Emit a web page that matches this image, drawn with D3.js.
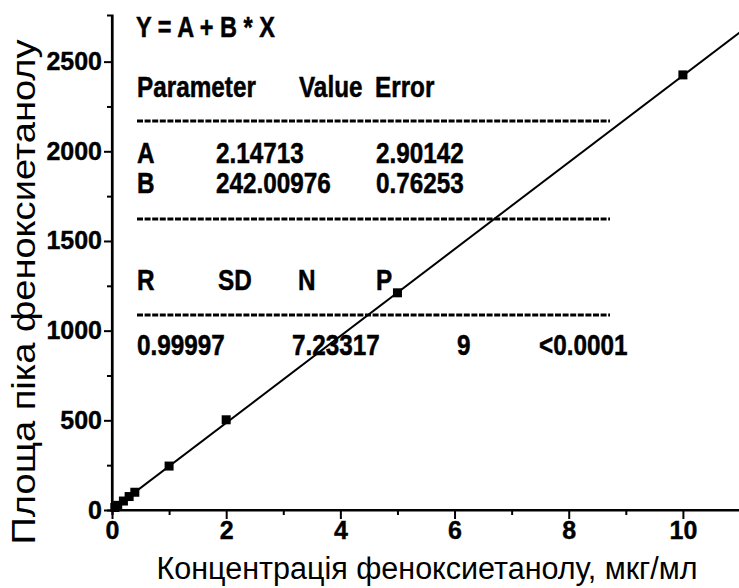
<!DOCTYPE html>
<html>
<head>
<meta charset="utf-8">
<script src="https://cdn.jsdelivr.net/npm/d3@7"></script>
<style>
  body { margin: 0; background: #fff; }
  svg { display: block; font-family: "Liberation Sans", Arial, sans-serif; }
</style>
</head>
<body>
<script>
// calibration points
var conc = [0.05, 0.1, 0.2, 0.3, 0.4, 1, 2, 5, 10];
var area = [14, 26, 50, 75, 99, 245, 503, 1211, 2426];

// fit parameters
var fitA = 2.14713, fitB = 242.00976;

var xTicks = [0, 2, 4, 6, 8, 10];
var xMinor = [1, 3, 5, 7, 9];
var yTicks = [0, 500, 1000, 1500, 2000, 2500];
var yMinor = [250, 750, 1250, 1750, 2250];

// stats table text
var eqText = "Y = A + B * X";
var headRow = ["Parameter", "Value", "Error"];
var paramRows = [["A", "2.14713", "2.90142"], ["B", "242.00976", "0.76253"]];
var statHead = ["R", "SD", "N", "P"];
var statVals = ["0.99997", "7.23317", "9", "<0.0001"];

var W = 739, H = 588;
var svg = d3.select("body").append("svg").attr("width", W).attr("height", H);

var x = d3.scaleLinear().domain([0, 11]).range([112, 740]);
var y = d3.scaleLinear().domain([0, 2760]).range([510, 15]);

// text in the box is a narrow heavy type: squeeze normal bold to 81%
function narrow(g, str, tx, ty, size) {
    var t = g.append("text")
        .attr("x", tx).attr("y", ty)
        .attr("font-size", size)
        .attr("font-weight", "bold")
        .attr("stroke", "#000")
        .attr("stroke-width", 0.5)
        .text(str);
    var len = t.node().getComputedTextLength();
    t.attr("textLength", len * 0.81).attr("lengthAdjust", "spacingAndGlyphs");
}

var box = svg.append("g");
narrow(box, eqText, 136, 37, 29);
var headX = [137, 299, 375];
headRow.forEach(function(s, i) { narrow(box, s, headX[i], 97, 30); });
var colX = [137, 216, 376];
paramRows.forEach(function(r, j) {
    r.forEach(function(s, i) { narrow(box, s, colX[i], 163 + j * 30, 30); });
});
var statX = [137, 218, 298, 376];
statHead.forEach(function(s, i) { narrow(box, s, statX[i], 290, 30); });
var valX = [137, 292, 457, 539];
statVals.forEach(function(s, i) { narrow(box, s, valX[i], 355, 30); });

[121, 219, 315].forEach(function(yy) {
    box.append("line")
        .attr("x1", 137).attr("x2", 610)
        .attr("y1", yy).attr("y2", yy)
        .attr("stroke", "#000")
        .attr("stroke-width", 3)
        .attr("stroke-dasharray", "6,1.6");
});

// axes
var yAxis = d3.axisLeft(y).tickValues(yTicks).tickSize(8).tickPadding(2).tickFormat(d3.format("d"));
var gy = svg.append("g").attr("transform", "translate(112,0)").call(yAxis);
svg.append("g").attr("transform", "translate(112,0)")
    .call(d3.axisLeft(y).tickValues(yMinor).tickSize(5).tickFormat(""));

var xAxis = d3.axisBottom(x).tickValues(xTicks).tickSize(9).tickPadding(2).tickFormat(d3.format("d"));
var gx = svg.append("g").attr("transform", "translate(0,510)").call(xAxis);
svg.append("g").attr("transform", "translate(0,510)")
    .call(d3.axisBottom(x).tickValues(xMinor).tickSize(5).tickFormat(""));

gy.select(".domain").attr("d", "M0," + y(2760) + "V" + y(0));
gx.select(".domain").attr("d", "M" + x(0) + ",0H" + x(11));
svg.selectAll(".domain").attr("stroke-width", 2.2);
svg.selectAll(".tick line").attr("stroke-width", 2);

svg.selectAll(".tick text")
    .attr("font-family", "Liberation Sans, Arial, sans-serif")
    .attr("font-size", 25)
    .attr("font-weight", "bold")
    .attr("fill", "#000")
    .attr("stroke", "#000")
    .attr("stroke-width", 0.4);

// axis titles
svg.append("text")
    .attr("x", 427).attr("y", 579)
    .attr("text-anchor", "middle")
    .attr("font-size", 31)
    .attr("textLength", 541)
    .attr("lengthAdjust", "spacingAndGlyphs")
    .text("Концентрація феноксиетанолу, мкг/мл");

svg.append("text")
    .attr("transform", "translate(35,292) rotate(-90)")
    .attr("text-anchor", "middle")
    .attr("font-size", 33)
    .attr("textLength", 505)
    .attr("lengthAdjust", "spacingAndGlyphs")
    .text("Площа піка феноксиетанолу");

// fit line
svg.append("line")
    .attr("x1", x(0)).attr("y1", y(fitA))
    .attr("x2", x(11)).attr("y2", y(fitA + fitB * 11))
    .attr("stroke", "#000")
    .attr("stroke-width", 2);

// points
svg.selectAll(".pt").data(conc).enter().append("rect")
    .attr("class", "pt")
    .attr("x", function(d) { return x(d) - 4.5; })
    .attr("y", function(d, i) { return y(area[i]) - 4.5; })
    .attr("width", 9).attr("height", 9)
    .attr("fill", "#000");
</script>
</body>
</html>
